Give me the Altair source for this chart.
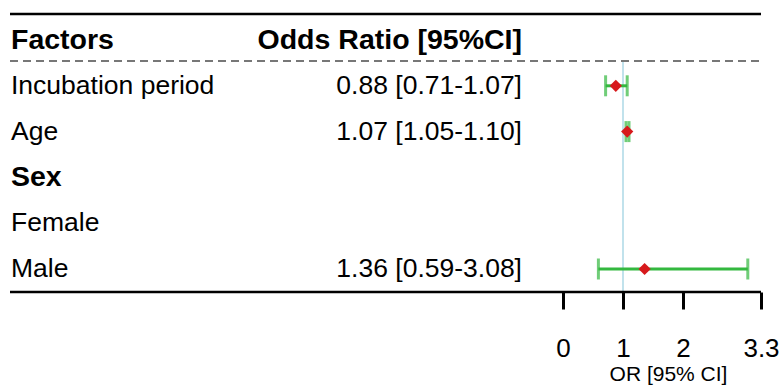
import altair as alt
import pandas as pd

# Table content
factors = ["Incubation period", "Age", "Sex", "Female", "Male"]
or_text = ["0.88 [0.71-1.07]", "1.07 [1.05-1.10]", "", "", "1.36 [0.59-3.08]"]
bold_rows = [False, False, True, False, False]
est = [0.88, 1.07, None, None, 1.36]
low = [0.71, 1.05, None, None, 0.59]
high = [1.07, 1.10, None, None, 3.08]
headers = ["Factors", "Odds Ratio [95%CI]"]
x_ticks = [0, 1, 2, 3.3]

FONT = "Liberation Sans"
GREEN = "#33b83f"
RED = "#d7191c"
BODY_SIZE = 26.5
BOLD_SIZE = 28.5

rows = pd.DataFrame({
    "row": list(range(1, len(factors) + 1)),
    "factor": factors,
    "or_text": or_text,
    "bold": bold_rows,
    "est": est,
    "low": low,
    "high": high,
})
ci = rows.dropna(subset=["est"])
head = pd.DataFrame({"row": [0, 0], "text": headers, "col": ["left", "right"]})

yscale = alt.Scale(domain=[0, 5], range=[40, 269], zero=False, nice=False)
xscale = alt.Scale(domain=[0, 3.3], range=[563, 761], zero=False, nice=False)
Y = alt.Y("row:Q", scale=yscale, axis=None)

one = pd.DataFrame({"a": [0]})

# Horizontal table rules
top_rule = alt.Chart(one).mark_rule(color="black", strokeWidth=2.5).encode(
    x=alt.value(10), x2=alt.value(761), y=alt.value(14))
mid_rule = alt.Chart(one).mark_rule(
    color="#777777", strokeWidth=2, strokeDash=[8, 5]).encode(
    x=alt.value(10), x2=alt.value(761), y=alt.value(61))
bot_rule = alt.Chart(one).mark_rule(color="black", strokeWidth=2.5).encode(
    x=alt.value(10), x2=alt.value(761), y=alt.value(292))

# Reference line at OR = 1, carrying the x axis
ref = alt.Chart(pd.DataFrame({"v": [1]})).mark_rule(color="#add8e6", strokeWidth=1.5).encode(
    x=alt.X("v:Q", scale=xscale,
            axis=alt.Axis(values=x_ticks, title="OR [95% CI]", domain=False, grid=False,
                          tickSize=17, tickWidth=3, tickColor="black",
                          labelFont=FONT, labelFontSize=26, labelColor="black",
                          labelPadding=26, labelFlush=False, labelOverlap=False,
                          format="~g",
                          titleFont=FONT, titleFontSize=21, titleFontWeight="normal",
                          titleColor="black", titlePadding=2, titleX=668)),
    y=alt.value(61), y2=alt.value(292))

# Header text
head_left = alt.Chart(head[head.col == "left"]).mark_text(
    font=FONT, fontSize=BOLD_SIZE, fontWeight="bold", align="left", baseline="middle", color="black"
).encode(x=alt.value(11), y=Y, text="text:N")
head_right = alt.Chart(head[head.col == "right"]).mark_text(
    font=FONT, fontSize=BOLD_SIZE, fontWeight="bold", align="right", baseline="middle", color="black"
).encode(x=alt.value(522), y=Y, text="text:N")

# Factor column (group labels in bold)
factor_txt = alt.Chart(rows[~rows.bold]).mark_text(
    font=FONT, fontSize=BODY_SIZE, align="left", baseline="middle", color="black"
).encode(x=alt.value(11), y=Y, text="factor:N")
group_txt = alt.Chart(rows[rows.bold]).mark_text(
    font=FONT, fontSize=BOLD_SIZE, fontWeight="bold", align="left", baseline="middle", color="black"
).encode(x=alt.value(11), y=Y, text="factor:N")

# Odds ratio column
or_txt = alt.Chart(rows[rows.or_text != ""]).mark_text(
    font=FONT, fontSize=BODY_SIZE, align="right", baseline="middle", color="black"
).encode(x=alt.value(522), y=Y, text="or_text:N")

# Confidence intervals
ci_line = alt.Chart(ci).mark_rule(color=GREEN, strokeWidth=3).encode(
    x=alt.X("low:Q", scale=xscale), x2="high:Q", y=Y)
cap_lo = alt.Chart(ci).mark_tick(color=GREEN, thickness=3, size=21, orient="vertical").encode(
    x=alt.X("low:Q", scale=xscale), y=Y)
cap_hi = alt.Chart(ci).mark_tick(color=GREEN, thickness=3, size=21, orient="vertical").encode(
    x=alt.X("high:Q", scale=xscale), y=Y)
pts = alt.Chart(ci).mark_point(shape="diamond", filled=True, color=RED, size=150, opacity=1).encode(
    x=alt.X("est:Q", scale=xscale), y=Y)

chart = alt.layer(
    ref, top_rule, mid_rule, bot_rule, head_left, head_right, factor_txt, group_txt, or_txt,
    ci_line, cap_lo, cap_hi, pts
).properties(
    width=780, height=292,
    autosize=alt.AutoSizeParams(type="none"),
    padding={"left": 0, "top": 0, "right": 0, "bottom": 98},
    background="white",
).configure_view(stroke=None)

chart.save("out.html", embed_options={"renderer": "svg", "actions": False})
